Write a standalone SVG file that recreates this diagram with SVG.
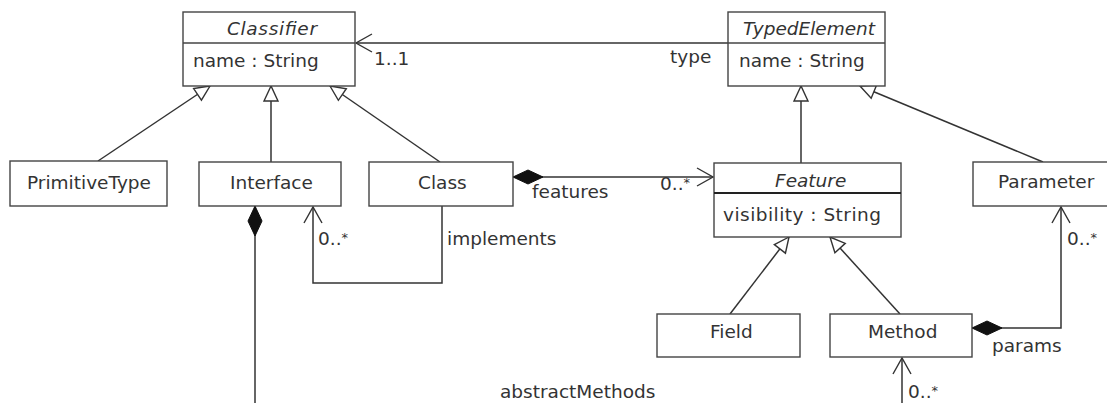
<svg xmlns="http://www.w3.org/2000/svg" width="1107" height="403" viewBox="0 0 1107 403">
  <style>
    .box { fill: #fff; stroke: #444; stroke-width: 1.4; }
    .sep { stroke: #444; stroke-width: 1.4; }
    .sep-bold { stroke: #222; stroke-width: 2.2; }
    .txt { font-family: "DejaVu Sans", Verdana, sans-serif; font-size: 18.5px; fill: #333; }
    .abs { font-style: italic; }
    .star { font-size: 13px; }
    .edge { fill: none; stroke: #333; stroke-width: 1.5; }
  </style>
  <defs>
    <!-- hollow triangle for generalization -->
    <marker id="gen" markerUnits="userSpaceOnUse" viewBox="-18 -10 20 20" refX="0" refY="0" markerWidth="20" markerHeight="20" orient="auto">
      <path d="M0,0 L-15,-7 L-15,7 Z" fill="#fff" stroke="#333" stroke-width="1.4"/>
    </marker>
    <!-- open navigability arrow -->
    <marker id="open" markerUnits="userSpaceOnUse" viewBox="-20 -12 22 24" refX="0" refY="0" markerWidth="22" markerHeight="24" orient="auto">
      <path d="M-16,-9 L0,0 L-16,9" fill="none" stroke="#333" stroke-width="1.4"/>
    </marker>
    <!-- filled diamond for composition -->
    <marker id="comp" markerUnits="userSpaceOnUse" viewBox="-2 -10 34 20" refX="0" refY="0" markerWidth="34" markerHeight="20" orient="auto">
      <path d="M0,0 L15,-7 L30,0 L15,7 Z" fill="#111" stroke="#111" stroke-width="1"/>
    </marker>
  </defs>

  <rect width="1107" height="403" fill="#fff"/>

  <g id="connectors">
    <!-- generalizations -->
    <path class="edge" d="M98,161 L210,86" marker-end="url(#gen)"/>
    <path class="edge" d="M271,162 L271,86" marker-end="url(#gen)"/>
    <path class="edge" d="M440,162 L330,86" marker-end="url(#gen)"/>
    <path class="edge" d="M801,163 L801,86" marker-end="url(#gen)"/>
    <path class="edge" d="M1043,162 L860,86" marker-end="url(#gen)"/>
    <path class="edge" d="M730,314 L789,237" marker-end="url(#gen)"/>
    <path class="edge" d="M900,314 L830,237" marker-end="url(#gen)"/>
    <!-- associations -->
    <path class="edge" d="M728,43 L356,43" marker-end="url(#open)"/>
    <path class="edge" d="M513,177 L713,177" marker-start="url(#comp)" marker-end="url(#open)"/>
    <path class="edge" d="M442,206 L442,283 L313,283 L313,207" marker-end="url(#open)"/>
    <path class="edge" d="M255,206 L255,403" marker-start="url(#comp)"/>
    <path class="edge" d="M972,328 L1061,328 L1061,207" marker-start="url(#comp)" marker-end="url(#open)"/>
    <path class="edge" d="M902,403 L902,358" marker-end="url(#open)"/>
    <!-- association labels -->
    <text class="txt" x="670" y="63">type</text>
    <text class="txt" x="374" y="65">1..1</text>
    <text class="txt" x="532" y="198">features</text>
    <text class="txt" x="660" y="190">0..<tspan class="star" dy="-3">*</tspan></text>
    <text class="txt" x="318" y="245">0..<tspan class="star" dy="-3">*</tspan></text>
    <text class="txt" x="447" y="245">implements</text>
    <text class="txt" x="1067" y="245">0..<tspan class="star" dy="-3">*</tspan></text>
    <text class="txt" x="992" y="352">params</text>
    <text class="txt" x="500" y="398">abstractMethods</text>
    <text class="txt" x="908" y="398">0..<tspan class="star" dy="-3">*</tspan></text>
  </g>

  <g id="Classifier">
    <rect class="box" x="183" y="12" width="172" height="74"/>
    <line class="sep" x1="183" y1="43" x2="355" y2="43"/>
    <text class="txt abs" x="227" y="35" textLength="90">Classifier</text>
    <text class="txt" x="193" y="67">name : String</text>
  </g>

  <g id="TypedElement">
    <rect class="box" x="728" y="12" width="157" height="74"/>
    <line class="sep" x1="728" y1="43" x2="885" y2="43"/>
    <text class="txt abs" x="743" y="35">TypedElement</text>
    <text class="txt" x="739" y="67">name : String</text>
  </g>

  <g id="PrimitiveType">
    <rect class="box" x="10" y="161" width="157" height="45"/>
    <text class="txt" x="27" y="189">PrimitiveType</text>
  </g>

  <g id="Interface">
    <rect class="box" x="199" y="162" width="142" height="44"/>
    <text class="txt" x="230" y="189">Interface</text>
  </g>

  <g id="Class">
    <rect class="box" x="369" y="162" width="144" height="44"/>
    <text class="txt" x="418" y="189">Class</text>
  </g>

  <g id="Feature">
    <rect class="box" x="714" y="163" width="187" height="74"/>
    <line class="sep-bold" x1="714" y1="193" x2="901" y2="193"/>
    <text class="txt abs" x="775" y="187">Feature</text>
    <text class="txt" x="723" y="221" textLength="158">visibility : String</text>
  </g>

  <g id="Parameter">
    <rect class="box" x="973" y="162" width="147" height="44"/>
    <text class="txt" x="998" y="188">Parameter</text>
  </g>

  <g id="Field">
    <rect class="box" x="657" y="314" width="143" height="43"/>
    <text class="txt" x="710" y="338">Field</text>
  </g>

  <g id="Method">
    <rect class="box" x="830" y="314" width="142" height="43"/>
    <text class="txt" x="868" y="338">Method</text>
  </g>
</svg>
